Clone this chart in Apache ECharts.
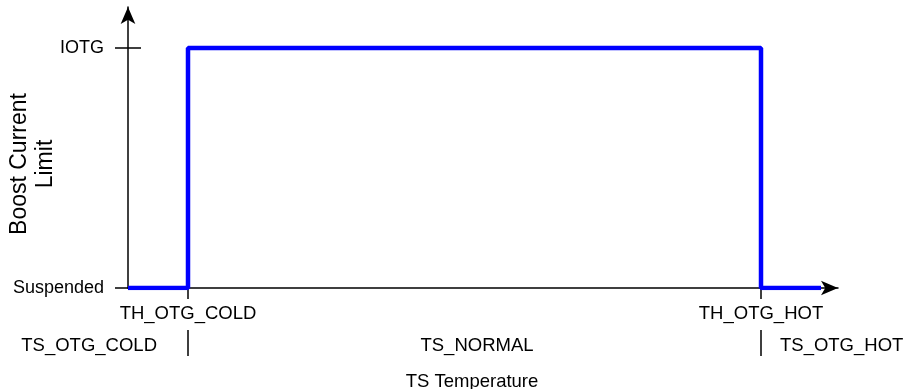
<!DOCTYPE html>
<html>
<head>
<meta charset="utf-8">
<script src="https://cdn.jsdelivr.net/npm/echarts@6/dist/echarts.min.js"></script>
<style>
  html, body { margin: 0; padding: 0; background: #fff; }
  #chart { width: 904px; height: 389px; }
</style>
</head>
<body>
<div id="chart"></div>
<script>
// temperature axis, in px-like units from the y axis
const tempMax = 710
const thresholds = [60, 633]
const thresholdNames = ['TH_OTG_COLD', 'TH_OTG_HOT']
const zoneNormalAt = 349
const zoneNames = ['TS_OTG_COLD', 'TS_NORMAL', 'TS_OTG_HOT']

// current limit levels
const levelMax = 1.171
const levels = [0, 1]
const levelNames = ['Suspended', 'IOTG']

// boost current limit curve
const curveX = [0, 60, 60, 633, 633, 693]
const curveY = [0, 0, 1, 1, 0, 0]

const font = 'Liberation Sans, Arial, sans-serif'
const black = '#000'

let chart = echarts.init(document.getElementById('chart'))

function labelFor (v, vals, names) {
  let i = vals.indexOf(v)
  return i >= 0 ? names[i] : ''
}

const baseX = {
  type: 'value',
  position: 'bottom',
  min: 0,
  max: tempMax,
  splitLine: { show: false },
  axisLine: { show: false, onZero: false },
  axisTick: { show: false },
  axisLabel: { show: false }
}

chart.setOption({
  animation: false,
  grid: { left: 128, right: 66, top: 7, bottom: 101, containLabel: false, outerBoundsMode: 'none' },
  xAxis: [
    // main axis with arrow and threshold labels
    Object.assign({}, baseX, {
      axisLine: {
        show: true,
        onZero: false,
        symbol: ['none', 'arrow'],
        symbolSize: [11, 17],
        lineStyle: { color: black, width: 1.5 }
      },
      axisTick: {
        show: true,
        customValues: thresholds,
        length: 11,
        lineStyle: { color: black, width: 1.5 }
      },
      axisLabel: {
        show: true,
        customValues: thresholds,
        margin: 16,
        color: black,
        fontFamily: font,
        fontSize: 18.5,
        formatter: v => labelFor(v, thresholds, thresholdNames)
      },
      name: 'TS Temperature',
      nameLocation: 'middle',
      nameGap: 84,
      nameMoveOverlap: false,
      nameTextStyle: { color: black, fontFamily: font, fontSize: 18.5, padding: [0, 22, 0, 0] }
    }),
    // inner part of the threshold ticks
    Object.assign({}, baseX, {
      axisTick: {
        show: true,
        inside: true,
        customValues: thresholds,
        length: 15,
        lineStyle: { color: black, width: 1.5 }
      }
    }),
    // zone separators + TS_NORMAL
    Object.assign({}, baseX, {
      offset: 42,
      axisTick: {
        show: true,
        customValues: thresholds,
        length: 26,
        lineStyle: { color: black, width: 1.5 }
      },
      axisLabel: {
        show: true,
        customValues: [zoneNormalAt],
        margin: 6,
        color: black,
        fontFamily: font,
        fontSize: 18.5,
        formatter: () => zoneNames[1]
      }
    }),
    // TS_OTG_COLD
    Object.assign({}, baseX, {
      offset: 42,
      axisLabel: {
        show: true,
        customValues: [thresholds[0]],
        margin: 6,
        align: 'right',
        padding: [0, 31, 0, 0],
        color: black,
        fontFamily: font,
        fontSize: 18.5,
        formatter: () => zoneNames[0]
      }
    }),
    // TS_OTG_HOT
    Object.assign({}, baseX, {
      offset: 42,
      axisLabel: {
        show: true,
        customValues: [thresholds[1]],
        margin: 6,
        align: 'left',
        padding: [0, 0, 0, 19],
        color: black,
        fontFamily: font,
        fontSize: 18.5,
        formatter: () => zoneNames[2]
      }
    })
  ],
  yAxis: [
    {
      type: 'value',
      position: 'left',
      min: 0,
      max: levelMax,
      splitLine: { show: false },
      axisLine: {
        show: true,
        onZero: false,
        symbol: ['none', 'arrow'],
        symbolSize: [11, 17],
        lineStyle: { color: black, width: 1.5 }
      },
      axisTick: {
        show: true,
        customValues: levels,
        length: 13,
        lineStyle: { color: black, width: 1.5 }
      },
      axisLabel: {
        customValues: levels,
        margin: 24,
        color: black,
        fontFamily: font,
        fontSize: 18,
        formatter: v => labelFor(v, levels, levelNames)
      },
      name: 'Boost Current\nLimit',
      nameLocation: 'middle',
      nameGap: 69,
      nameMoveOverlap: false,
      nameTextStyle: {
        color: black,
        fontFamily: font,
        fontSize: 23,
        lineHeight: 26,
        padding: [0, 33, 0, 0]
      }
    },
    {
      type: 'value',
      position: 'left',
      min: 0,
      max: levelMax,
      splitLine: { show: false },
      axisLine: { show: false, onZero: false },
      axisTick: {
        show: true,
        inside: true,
        customValues: levels,
        length: 13,
        lineStyle: { color: black, width: 1.5 }
      },
      axisLabel: { show: false }
    }
  ],
  series: [
    {
      type: 'line',
      xAxisIndex: 0,
      yAxisIndex: 0,
      data: curveX.map((x, i) => [x, curveY[i]]),
      showSymbol: false,
      lineStyle: { color: '#0000ff', width: 4.5 },
      z: 5
    }
  ]
})
</script>
</body>
</html>
